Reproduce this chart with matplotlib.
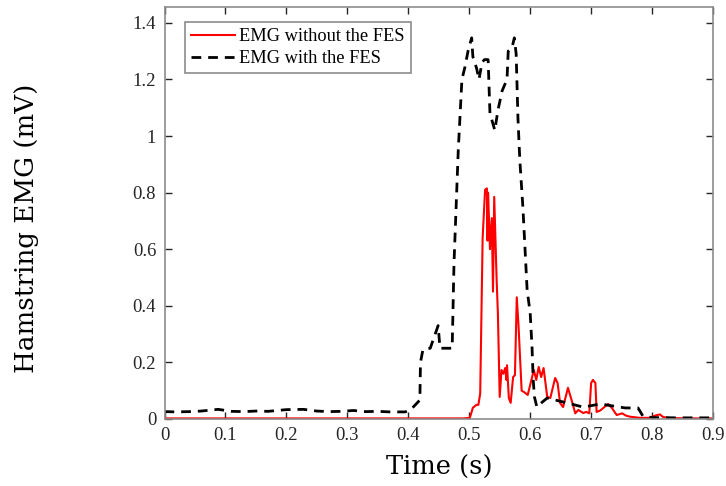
import matplotlib
matplotlib.use('Agg')
import matplotlib.pyplot as plt

# dati (tempo in s, EMG in mV)
t_senza = [0.0, 0.1, 0.2, 0.3, 0.4, 0.49, 0.501, 0.506, 0.512, 0.515, 0.518, 0.522, 0.526,
           0.529, 0.530, 0.531, 0.534, 0.537, 0.539, 0.541, 0.545, 0.547, 0.550, 0.553,
           0.556, 0.559, 0.561, 0.562, 0.565, 0.568, 0.572, 0.575, 0.578, 0.581, 0.586,
           0.590, 0.596, 0.602, 0.606, 0.610, 0.614, 0.618, 0.622, 0.628, 0.633, 0.641,
           0.645, 0.649, 0.654, 0.662, 0.667, 0.674, 0.679, 0.687, 0.692, 0.697, 0.700,
           0.703, 0.707, 0.709, 0.715, 0.720, 0.728, 0.734, 0.742, 0.751, 0.757, 0.764,
           0.780, 0.795, 0.808, 0.813, 0.818, 0.830, 0.86, 0.9]
emg_senza = [0.002, 0.002, 0.002, 0.002, 0.002, 0.002, 0.004, 0.04, 0.05, 0.05, 0.09, 0.64, 0.81,
             0.815, 0.63, 0.80, 0.60, 0.71, 0.45, 0.785, 0.49, 0.375, 0.078, 0.173,
             0.16, 0.18, 0.138, 0.19, 0.074, 0.057, 0.148, 0.155, 0.43, 0.325, 0.10,
             0.095, 0.085, 0.138, 0.173, 0.138, 0.184, 0.148, 0.18, 0.078, 0.074, 0.145,
             0.127, 0.057, 0.042, 0.11, 0.074, 0.02, 0.032, 0.021, 0.025, 0.02, 0.127,
             0.138, 0.127, 0.025, 0.03, 0.039, 0.053, 0.039, 0.014, 0.02, 0.012, 0.008,
             0.004, 0.004, 0.014, 0.016, 0.007, 0.003, 0.002, 0.002]

t_con = [0.0, 0.02, 0.04, 0.06, 0.088, 0.11, 0.13, 0.15, 0.17, 0.2, 0.228, 0.25, 0.27,
         0.29, 0.31, 0.33, 0.35, 0.37, 0.395, 0.405, 0.419, 0.42, 0.424, 0.436, 0.449,
         0.452, 0.472, 0.475, 0.482, 0.488, 0.493, 0.498, 0.504, 0.506, 0.512, 0.516,
         0.521, 0.525, 0.531, 0.534, 0.542, 0.547, 0.554, 0.562, 0.564, 0.570, 0.574,
         0.577, 0.580, 0.583, 0.588, 0.595, 0.600, 0.603, 0.605, 0.607, 0.611, 0.620,
         0.628, 0.645, 0.660, 0.687, 0.715, 0.756, 0.777, 0.785, 0.80, 0.84, 0.9]
emg_con = [0.026, 0.025, 0.026, 0.028, 0.034, 0.027, 0.026, 0.028, 0.027, 0.033, 0.034, 0.028, 0.026,
           0.027, 0.030, 0.026, 0.027, 0.025, 0.025, 0.035, 0.067, 0.2, 0.245, 0.25, 0.33,
           0.25, 0.25, 0.55, 0.95, 1.2, 1.244, 1.30, 1.347, 1.28, 1.24, 1.20,
           1.26, 1.27, 1.27, 1.08, 1.02, 1.09, 1.16, 1.20, 1.30, 1.31, 1.347,
           1.29, 1.06, 0.915, 0.75, 0.456, 0.375, 0.255, 0.138, 0.078, 0.042, 0.06,
           0.074, 0.065, 0.057, 0.042, 0.053, 0.039, 0.039, 0.01, 0.005, 0.004, 0.004]

x_ticks = [0, 0.1, 0.2, 0.3, 0.4, 0.5, 0.6, 0.7, 0.8, 0.9]
x_labels = ['0', '0.1', '0.2', '0.3', '0.4', '0.5', '0.6', '0.7', '0.8', '0.9']
y_ticks = [0, 0.2, 0.4, 0.6, 0.8, 1.0, 1.2, 1.4]
y_labels = ['0', '0.2', '0.4', '0.6', '0.8', '1', '1.2', '1.4']

grigio = '#8c8c8c'

fig = plt.figure(figsize=(7.26, 4.86), dpi=100)
ax = fig.add_axes([0.2266, 0.1379, 0.7555, 0.8477])
ax.plot(t_senza, emg_senza, color='red', lw=1.5, label='EMG without the FES')
ax.plot(t_con, emg_con, color='black', lw=2, ls=(0, (3.5, 2.5)), label='EMG with the FES')

ax.set_xlim(0, 0.9)
ax.set_ylim(0, 1.456)
ax.set_xticks(x_ticks)
ax.set_xticklabels(x_labels, fontfamily='Liberation Serif', fontsize=13.5, color='#262626')
ax.set_yticks(y_ticks)
ax.set_yticklabels(y_labels, fontfamily='Liberation Serif', fontsize=13.5, color='#262626')
ax.tick_params(direction='in', top=True, right=True, length=5, width=1, color='#262626', pad=6)
for s in ax.spines.values():
    s.set_color(grigio)
    s.set_linewidth(1.2)

ax.set_xlabel('Time (s)', fontfamily='DejaVu Serif', fontsize=18.5, va='center')
ax.xaxis.set_label_coords(0.5, -0.117)
ax.set_ylabel('Hamstring EMG (mV)', fontfamily='DejaVu Serif', fontsize=18.8, va='center')
ax.yaxis.set_label_coords(-0.251, 0.464)

leg = ax.legend(loc='upper left', bbox_to_anchor=(0.0374, 0.9636),
                prop={'family': 'Liberation Serif', 'size': 13.2},
                fancybox=False, framealpha=1, edgecolor=grigio, handlelength=2.4,
                borderaxespad=0, handletextpad=0.2, labelspacing=0.25, borderpad=0.35)
leg.get_frame().set_linewidth(1.2)

fig.savefig('out.png', dpi=100)
